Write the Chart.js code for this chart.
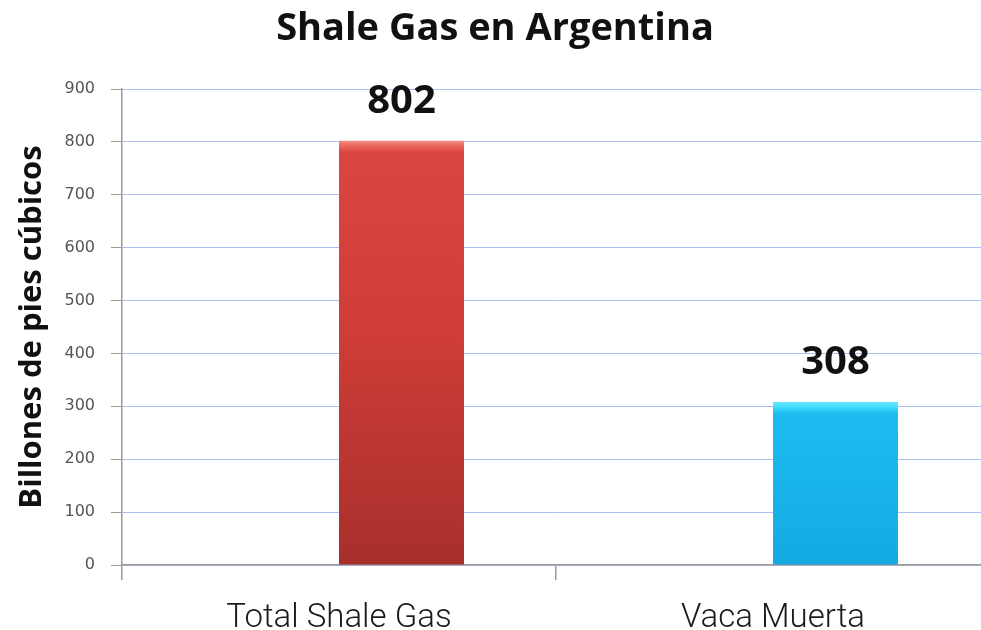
<!DOCTYPE html>
<html><head><meta charset="utf-8">
<script src="https://cdn.jsdelivr.net/npm/chart.js@4/dist/chart.umd.min.js"></script>
<style>html,body{margin:0;padding:0;background:#fff;overflow:hidden}#wrap{width:981px;height:630px;overflow:hidden}</style>
</head><body><div id="wrap"><canvas id="c" width="990" height="630"></canvas></div>
<script>
const categories = ["Total Shale Gas", "Vaca Muerta"];
const values = [802, 308];
const yTicks = [0,100,200,300,400,500,600,700,800,900];
const chartTitle = "Shale Gas en Argentina";
const yTitle = "Billones de pies cúbicos";

function barFill(ctx){
  const chart = ctx.chart; const area = chart.chartArea;
  if(!area || ctx.raw == null) return '#d9403a';
  const c = chart.ctx;
  const top = chart.scales.y.getPixelForValue(ctx.raw);
  const h = Math.max(area.bottom - top, 1);
  const g = c.createLinearGradient(0, top, 0, area.bottom);
  const t = Math.min(12 / h, 0.2);
  if(ctx.dataIndex === 0){
    g.addColorStop(0, '#f08a84'); g.addColorStop(t*0.5, '#e8605a'); g.addColorStop(t, '#db4540');
    g.addColorStop(0.45, '#cf3d38'); g.addColorStop(1, '#a82f2c');
  } else {
    g.addColorStop(0, '#6ae8ff'); g.addColorStop(t*0.5, '#38d8fa'); g.addColorStop(t, '#1cbcf0');
    g.addColorStop(1, '#14aae2');
  }
  return g;
}

const labelPlugin = {
  id: 'valLabels',
  afterDatasetsDraw(chart){
    const meta = chart.getDatasetMeta(1);
    const c = chart.ctx;
    c.save();
    c.font = 'bold 40px "Open Sans", sans-serif';
    c.fillStyle = '#111';
    c.textAlign = 'center'; c.textBaseline = 'alphabetic';
    meta.data.forEach((bar, i) => {
      c.fillText(String(values[i]), bar.x, bar.y - 28);
    });
    c.restore();
  }
};

new Chart(document.getElementById('c'), {
  type: 'bar',
  data: {
    labels: categories,
    datasets: [
      { data: categories.map(() => null), backgroundColor: 'rgba(0,0,0,0)' },
      { data: values, backgroundColor: barFill, borderWidth: 0 }
    ]
  },
  options: {
    responsive: false, animation: false,
    categoryPercentage: 0.576, barPercentage: 1.0,
    layout: { padding: { left: 0, right: 0, top: 0, bottom: 0 } },
    plugins: {
      legend: { display: false }, tooltip: { enabled: false },
      title: { display: true, text: chartTitle, color: '#111',
        font: { family: '"Open Sans", sans-serif', size: 38, weight: 'bold' },
        padding: { top: 6, bottom: 37.4 } }
    },
    scales: {
      x: {
        offset: true,
        afterFit(axis){ axis.height = 65; },
        grid: { offset: true, drawOnChartArea: false, drawTicks: true, tickLength: 15, tickColor: '#9a9a9a', lineWidth: 1.5 },
        border: { color: '#9a9a9a', width: 1.5 },
        ticks: { color: '#1a1a1a', padding: 22,
          font: { family: 'Roboto, "Open Sans", sans-serif', size: 33, weight: 300, lineHeight: 1.0 } }
      },
      y: {
        min: 0, max: 900,
        afterFit(axis){ axis.width = 122; },
        afterBuildTicks(axis){ axis.ticks = yTicks.map(v => ({ value: v })); },
        grid: { color: '#aebef0', tickColor: '#9a9a9a', tickLength: 11 },
        border: { color: '#9a9a9a', width: 1.5 },
        ticks: { color: '#555', padding: 16,
          font: { family: '"DejaVu Sans", sans-serif', size: 16 } },
        title: { display: true, text: yTitle, color: '#111', padding: { top: 14, bottom: 0 },
          font: { family: '"Open Sans", sans-serif', size: 31, weight: 'bold' } }
      }
    }
  },
  plugins: [labelPlugin]
});
</script></body></html>
